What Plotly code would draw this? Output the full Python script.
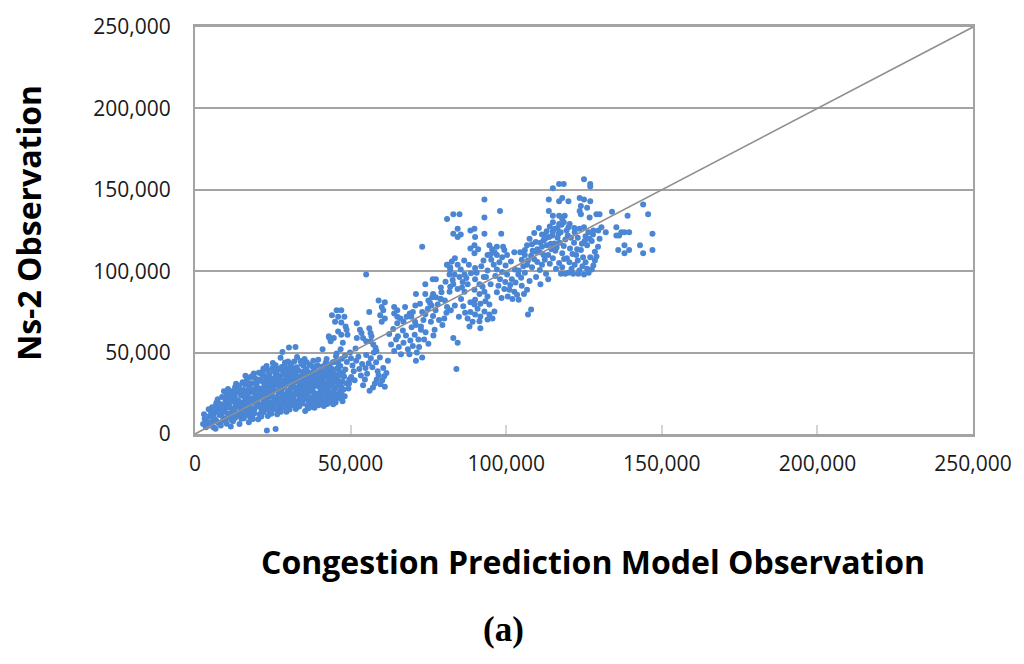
import plotly.graph_objects as go

# ---- tick values / labels ----
tick_vals = [0, 50000, 100000, 150000, 200000, 250000]
tick_labels = ["0", "50,000", "100,000", "150,000", "200,000", "250,000"]

# reference diagonal (y = x)
diag_x = [0, 250000]
diag_y = [0, 250000]

# ---- observations: (Congestion Prediction Model, Ns-2) ----
low_range = [
    (2600,6200),(3100,9400),(2900,12100),(4200,5100),(3800,7800),(4600,10900),(5100,13800),(4400,15200),(5300,7300),(3500,4200),
    (5900,4100),(6400,9200),(6100,12600),(7200,15900),(6800,18700),(7500,6800),(5700,10500),(7900,11700),(6600,3200),(7300,21300),(5500,16400),
    (8300,5200),(8900,8100),(8600,11400),(9400,13900),(9100,17200),(9800,20300),(8700,22800),(10300,24900),(10600,27600),(9600,15400),(10900,10700),(10200,6300),(8100,18400),(11000,19100),(9300,26200),
    (11500,4600),(12200,7900),(11800,11200),(12700,14300),(13100,16800),(12400,19900),(11600,22700),(13400,25800),(12900,28900),(13600,18100),(11900,13100),(12600,21500),(13800,11300),(11300,16200),(13200,30900),(12100,24300),
    (14300,6100),(14900,9300),(15200,12100),(14600,14900),(15800,17800),(16300,21200),(14800,23700),(15500,27100),(16100,30200),(16700,33400),(15100,19200),(16500,15700),(14400,26000),(16900,23900),(15700,9700),(14100,20100),(16200,35800),(15300,31800),
    (17300,7200),(17800,10100),(18400,13200),(17600,16300),(19200,19400),(18700,22100),(17400,25300),(19600,28200),(18200,31100),(19300,34200),(18900,37100),(17900,21700),(19800,17300),(18100,27400),(19500,24200),(17200,13900),(18600,9200),(19900,31600),
    (20300,9100),(20800,12200),(21400,14800),(20600,17900),(22100,20600),(21700,23700),(20400,26900),(22600,29800),(21200,32700),(22300,35600),(21900,38800),(20900,24800),(22800,19600),(21500,27900),(22400,15800),(20100,21300),(23000,41700),(23100,2200),(22700,25300),
    (23400,11100),(24100,13800),(24600,16900),(23700,19700),(25200,22400),(24800,25600),(23600,28700),(25500,31600),(24300,34400),(25800,37300),(24900,40600),(23900,24100),(25700,21200),(24400,30200),(25300,27100),(23300,33600),(25900,42300),(25900,3000),(24700,18200),(23800,36900),
    (26400,12200),(27100,15100),(27600,18400),(26700,21100),(28200,23900),(27800,26800),(26600,29900),(28500,32700),(27300,35600),(28800,38400),(27900,41200),(26900,25400),(28700,20300),(27400,31100),(28300,28600),(26300,34200),(28900,43900),(27200,17100),(26100,37600),(28100,50400),
    (29400,13600),(30100,16700),(30600,19300),(29700,22200),(31200,25100),(30800,28300),(29600,31400),(31500,34100),(30300,37200),(31800,40300),(30900,43200),(29900,26600),(31700,21400),(30400,32600),(31300,29800),(29300,35900),(31900,18100),(30200,53100),(29500,40100),(31100,23700),
    (32400,15300),(33100,18100),(33600,21200),(32700,24300),(34200,27200),(33800,30100),(32600,33200),(34500,35900),(33300,38800),(34800,41900),(33900,44800),(32900,28600),(34700,23100),(33400,31700),(32300,53400),(34300,19600),(32200,36700),(34900,33400),(33700,25900),
    (35400,14200),(36100,17300),(36600,20100),(35700,23200),(37200,26300),(36800,29100),(35600,32200),(37500,35300),(36300,38100),(37800,41300),(35900,44100),(36900,27600),(37700,22400),(36400,30600),(35300,25100),(37300,18800),(35800,36800),(37900,33100),
    (38400,16100),(39100,19200),(39600,22300),(38700,25100),(40200,28200),(39800,31100),(38600,34300),(40500,37100),(39300,42200),(40800,27300),(38900,29600),(40100,23800),(38300,39600),(39900,35100),(40700,20400),(41000,32600),
    (41400,17200),(42100,20300),(42600,23100),(41700,26200),(43200,28900),(42800,32100),(41600,35200),(43500,38300),(42300,46100),(43100,59200),(42900,25600),(41800,30400),(43700,21800),(42400,40600),(43900,33700),
    (44400,18300),(45100,21200),(45600,24300),(44700,27100),(46200,30400),(45800,33200),(44600,37100),(45300,47800),(46600,26400),(44900,35400),(46400,22100),(45700,40300),(46900,36100),
    (47400,20100),(48100,23200),(47700,27400),(48600,31100),(47900,35300),(48800,44300),(49300,27900),(48300,39600),(49600,33400),(47200,46200),
]

low_range_core = [
    (6900,8000),(7700,13400),(8400,16000),(7100,19800),(8800,14500),(6300,14300),
    (9900,9400),(10500,12600),(9700,18600),(11100,21400),(10700,16500),(11300,25900),(10100,23000),(11700,8800),
    (12900,9900),(13500,12500),(12300,15600),(14100,17600),(13700,20800),(12800,23100),(14600,24700),(13900,27400),(14200,29700),(12500,26900),(14900,13400),(13000,18800),
    (15600,14000),(16200,18600),(17100,20500),(15900,22600),(16800,26600),(17500,29000),(15400,24900),(16600,32000),(17700,34900),(17000,11600),(15300,16900),(17900,18700),
    (18500,11600),(19200,15700),(20200,18400),(19000,20900),(20700,22900),(18800,25800),(20300,28300),(19700,30100),(20800,33400),(18400,35700),(20500,37600),(19100,12800),(21000,16600),
    (21300,10700),(22000,13300),(23200,17300),(21800,18800),(22700,22100),(23500,23200),(21600,26200),(23300,27000),(22200,31000),(23700,32200),(22900,34000),(21400,36800),(23400,39100),(22000,40200),(23600,14800),
    (24500,12400),(25400,15400),(26200,18100),(25000,19300),(26300,22900),(24200,23000),(26700,26200),(25100,28800),(26400,31300),(24700,33000),(26000,35000),(25300,38800),(26800,40000),(25000,43600),(26600,14200),
    (27600,13700),(28400,16400),(29200,19100),(27900,21900),(29400,24700),(27300,27300),(29000,29900),(27700,33100),(29300,33700),(28400,36700),(29700,38300),(27400,39500),(28800,41900),(29900,44600),(27500,46800),
    (30400,15100),(31400,17700),(32200,20100),(30900,22000),(32500,26000),(30500,24200),(32000,28500),(31700,31800),(30700,35300),(32200,38000),(31300,39100),(32700,41000),(30600,41800),(31900,44600),(32800,47300),
    (33500,16900),(34600,18700),(35200,21500),(33900,22700),(35500,27400),(34100,24900),(35100,29700),(33100,27100),(34800,31000),(35400,34300),(33600,35100),(34900,38400),(35800,40100),(34200,43100),(35200,46100),
    (36500,15800),(37600,16800),(38100,20700),(37000,21400),(38300,23600),(36200,24400),(37800,27800),(38500,30300),(37100,31900),(38200,32800),(36700,34800),(37600,37400),(38700,36500),(36900,42600),(38000,45000),
    (39700,17600),(40600,18900),(41300,22200),(39300,24100),(41200,25600),(40400,26400),(39500,29600),(41500,29200),(40300,30800),(39200,33300),(41100,34300),(40000,38900),(41400,38100),(40900,41500),(39600,45600),
    (42500,18500),(43400,19800),(44100,22900),(43000,23700),(44200,25700),(42200,27900),(43800,30200),(42900,33900),(44500,31800),(43600,35900),(42700,37300),(44100,39900),(43300,42700),(44800,44300),(42000,43800),
    (45200,19300),(46100,23600),(47100,24800),(45200,28700),(47000,29100),(46000,31900),(47300,32400),(45500,35800),(46400,38200),(47500,37800),(46700,41800),(45900,44500),
]

mid_range = [
    (44000,73000),(45500,76000),(47000,76000),(46000,72000),(48000,72000),(45000,69000),(47000,68500),(48400,66000),(48700,64000),
    (41000,52000),(43000,60000),(43600,57000),(44600,59000),(46000,63000),(47000,61000),(49000,61000),
    (52000,68000),(53000,64000),(53500,62000),(52000,59000),(54000,59000),
    (56000,65000),(56400,62000),(56700,60000),(55000,57000),(56400,57000),(57300,55000),(58000,53000),(58300,51000),
    (56000,75000),(55000,98000),(73000,115000),
    (59000,82000),(61000,81000),(60000,78000),(60500,76000),(59500,73000),(61000,71000),(60000,69000),
    (64000,78000),(65000,76000),(64000,74000),(65000,72000),(66000,71000),(67000,69000),(65000,68000),
    (67500,78000),(69000,74000),(70000,75000),(69500,72000),(70700,69000),(71000,67000),
    (71000,86000),(74000,86000),(76500,86000),(77400,84000),(79000,83000),(75000,82000),(76000,79000),
    (74000,92000),(76400,95000),(77400,95000),
    (81000,104000),(82500,106000),(82000,101000),
    (71000,45000),(73000,47000),(83000,59000),(84000,40000),
    (49500,31000),(50200,35000),(51000,38500),(50600,42000),(51800,45000),(52500,47500),(51300,33000),(52800,40000),(53300,36000),(50100,46500),(49800,50000),(51600,52500),
    (54000,30000),(54600,33500),(55300,37000),(54800,40500),(55800,43500),(56500,46500),(55000,48500),(57200,28500),(57800,31000),(58400,33500),(59000,36000),(59600,30500),(60200,33000),(58700,38500),(60800,35500),(57000,41000),(58200,44000),(59400,47000),(61000,29000),(56100,26500),(53700,43000),(60500,40500),(61500,37500),(57500,50000),(62000,45000),
    (63000,55000),(64000,51000),(64600,58000),(65500,53500),(66200,49000),(67000,56000),(67800,60500),(68400,52000),(69200,57500),(70000,54000),(70600,61000),(71300,50000),(66800,63500),(68900,49000),(62400,61500),(63700,64500),(65200,60000),(72000,53500),(71800,58000),(72600,64000),
    (46800,52000),(47500,56000),(45500,49500),(48200,48000),(44300,44000),(46200,42500),
]

upper_range = [
    (72600,66000),(73400,70000),(74000,73500),(74800,77000),(75500,80500),(73000,75000),(75800,69000),(76500,72500),(77300,76000),(78000,79500),(78800,83000),(79500,67000),(80100,71000),(80800,74500),(81000,78000),(77000,64000),(79200,87000),(72300,80000),(74100,62500),(76200,84000),(80300,82000),(78400,70000),(73600,58000),(75000,55500),(76600,60500),(70800,79000),(69600,65500),(68000,72000),
    (81000,104000),(82000,102500),(84400,104000),(85400,101000),(81800,98000),(83400,98000),(85000,96500),(86600,98000),(82800,94600),(86000,93400),(87600,92000),(82000,90400),(84400,89000),(86600,87400),(81800,87400),
    (90000,95000),(91400,92000),(92400,90400),(89800,88600),(91400,86000),(93000,87400),(94000,84400),(90000,82500),(91700,80000),(93300,81500),(94600,79500),(90800,77000),(93000,75200),(94600,73400),(96200,75200),(91700,72200),(94000,70400),(91400,69200),(95600,71000),
    (88500,81000),(89800,79500),(88500,75000),(90000,73400),(87600,71000),(89200,69000),(88200,66000),(91700,65000),
    (84400,56000),(83500,79000),(85500,83000),(82200,76000),(86200,78500),(84800,72000),(86800,74500),
    (96000,104000),(97000,101000),(98700,99500),(100300,98000),(98000,95000),(99700,93400),(101300,91600),(99400,89000),(101000,88600),(102600,87400),(103500,85500),(102000,83000),(104000,82500),(105700,86000),(106700,88600),(97500,91000),(96500,97000),(103000,93000),(104800,96000),(106000,99000),(105000,91000),(100500,84500),
    (81000,132000),(83000,135000),(85000,135000),(93000,144000),(93000,133000),(98000,137000),
    (84400,126000),(83000,123000),(85400,122600),(84400,121000),(88500,125000),(89800,126000),(90000,121000),(93000,123000),(98400,123000),
    (88500,114000),(89800,116000),(91000,113500),(89800,111000),
    (94600,116000),(95500,113500),(97000,115000),(99000,115000),(99400,113000),(95000,110400),(97000,110000),(98700,108600),(100300,110000),(102600,111600),
    (83500,108000),(86500,106500),(88000,104000),(92000,103000),(94000,100500),(90500,99000),(92800,96500),(95200,107000),
    (79000,90000),(80500,93500),(83000,92000),(85800,90000),(87200,95800),(88700,98700),(90000,102000),(92700,106500),(94000,110000),(96300,111500),
    (97800,105500),(99800,103500),(101500,106000),(102800,101000),(103900,98000),(101800,95000),(97000,87000),(95000,92000),(93500,96500),(98500,83500),
]

top_range = [
    (106700,116000),(108300,116500),(110000,113500),(110800,111600),(112000,119000),(112400,122000),(111500,122600),
    (104500,111600),(106000,110000),(105000,107000),(106700,104000),(109000,107400),(108300,102500),
    (110000,105600),(111500,104000),(112400,107000),(110800,100700),
    (113500,110000),(114500,113500),(115500,117000),(116500,120500),(114000,104500),(115000,108000),(116000,101500),(117000,105000),(118000,111000),(113000,116000),(117500,124000),(114800,122000),(118500,115500),(112800,98500),(109600,96500),(107500,94000),(111000,92000),(113500,95000),
    (108000,76500),(107000,73400),
    (115000,151000),(117000,153500),(118500,153500),(125000,156500),(127000,153500),(127000,152000),
    (113700,144000),(117000,143000),(118000,145000),(120000,143000),
    (123600,145000),(125000,144000),(124000,140000),(126000,139000),(127000,143000),
    (113700,137000),(115000,134000),(117000,134000),(118800,134000),(118000,132000),(123600,137000),(124000,135000),(126800,133000),(129000,135000),(130000,135000),
    (115000,130000),(117000,129000),(118500,130000),(120400,129000),(120000,127000),(119400,125000),(115600,126000),
    (123600,126000),(125000,127000),(126400,124000),(128000,125000),(129600,125000),(130600,127000),(132000,124000),
    (134000,136500),(139000,134000),(144000,141000),(145600,135000),
    (135400,127000),(137000,124000),(138000,124000),(139500,124000),(135400,122000),(136300,122000),(147000,123000),
    (136000,113000),(138000,116000),(138000,111000),(139500,113000),(143000,116000),(144000,111000),(147000,113000),
    (120000,99000),(121000,101500),(122000,104000),(123000,106500),(121500,98500),(123500,100500),(124500,103000),(125500,105500),(126500,99000),(127500,101000),(128000,103500),(125000,98000),(128500,106500),(122500,110000),(124000,113000),(126000,116000),(127500,118500),(120500,114000),(121800,117500),(123000,120500),(125500,121500),(128500,112000),(129500,115000),(119500,108000),(130000,120000),(122000,124000),
    (107500,120000),(109000,123500),(110500,126500),(108500,112500),(111500,115000),(113000,124500),(114000,127500),(116500,126500),(117800,128500),(112000,110000),(115800,112500),(119000,119500),(109500,118000),(106000,113000),(118000,102500),(119000,98500),
    (104000,100500),(105500,103000),(107000,106500),(108000,109500),(109500,112000),(111000,117500),(112500,120000),(113800,121000),(115000,124500),(116800,123000),
    (117200,117500),(116200,114500),(114300,116800),(119800,122000),(120800,120500),(121300,110500),(122800,113500),(124300,116800),(125200,118500),(126700,120000),
    (127900,122500),(129000,109000),(127000,108500),(124700,108500),(123200,98500),(126000,101500),(120300,105500),(118600,107500),(117600,98500),(121900,126500),
]

all_points = low_range + low_range_core + mid_range + upper_range + top_range
model_obs = [p[0] for p in all_points]
ns2_obs = [p[1] for p in all_points]

GRID = "#a3a3a3"
FONT = "Open Sans, Noto Sans, sans-serif"
TICKFONT = dict(family=FONT, size=21, color="#1a1a1a")

fig = go.Figure()
fig.add_trace(go.Scatter(
    x=model_obs, y=ns2_obs, mode="markers",
    marker=dict(color="#4A86D4", size=6, line=dict(width=0)),
    showlegend=False, hoverinfo="skip"))
fig.add_trace(go.Scatter(
    x=diag_x, y=diag_y, mode="lines",
    line=dict(color="#8f8f8f", width=1.6),
    showlegend=False, hoverinfo="skip"))

fig.update_layout(
    width=1024, height=664,
    margin=dict(l=195, r=46, t=22, b=230),
    paper_bgcolor="white", plot_bgcolor="white",
    xaxis=dict(range=[0, 250000], tickvals=tick_vals, ticktext=tick_labels,
               showgrid=False, zeroline=False,
               showline=True, mirror=True, linecolor=GRID, linewidth=2.5,
               ticks="inside", ticklen=9, tickcolor="#d4d4d4", tickwidth=1.5,
               tickfont=TICKFONT, ticklabelstandoff=9, ticklabeloverflow="allow"),
    yaxis=dict(range=[0, 250000], tickvals=tick_vals, ticktext=tick_labels,
               showgrid=True, gridcolor=GRID, gridwidth=2, zeroline=False,
               showline=True, mirror=True, linecolor=GRID, linewidth=2,
               ticks="", tickfont=TICKFONT, ticklabelstandoff=18, ticklabeloverflow="allow"),
    annotations=[
        dict(text="<b>Ns-2 Observation</b>", xref="paper", yref="paper",
             x=-0.2133, y=0.519, textangle=-90, showarrow=False,
             xanchor="center", yanchor="middle",
             font=dict(family=FONT, size=32, color="black")),
        dict(text="<b>Congestion Prediction Model Observation</b>", xref="paper", yref="paper",
             x=0.511, y=-0.313, showarrow=False, xanchor="center", yanchor="middle",
             font=dict(family=FONT, size=32, color="black")),
        dict(text="<b>(a)</b>", xref="paper", yref="paper",
             x=0.396, y=-0.4806, showarrow=False, xanchor="center", yanchor="middle",
             font=dict(family="Liberation Serif, serif", size=35, color="black")),
    ],
)

fig.write_html("out.html", config={"displayModeBar": False},
               post_script="document.body.style.margin='0';document.body.style.overflow='hidden';")
